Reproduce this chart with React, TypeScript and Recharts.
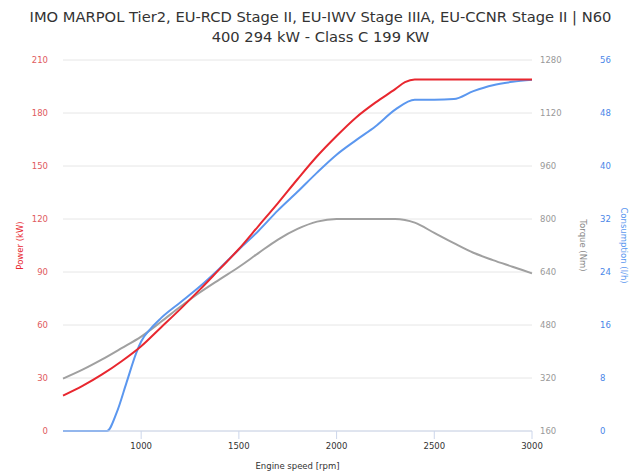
import React from 'react';
import { LineChart, Line, XAxis, YAxis, CartesianGrid } from 'recharts';

const rpm = [600, 700, 800, 900, 1000, 1100, 1200, 1300, 1400, 1500, 1600, 1700, 1800, 1900, 2000, 2100, 2200, 2300, 2350, 2400, 2500, 2600, 2700, 2800, 2900, 3000];
const powerKw = [20, 25.5, 32, 39.5, 48, 58.5, 69, 80, 91.5, 103, 116, 129, 142.5, 155.5, 167, 177.5, 186, 193.5, 197.5, 199, 199, 199, 199, 199, 199, 199];
const torqueNm = [318, 345, 376, 410, 445, 489, 535, 578, 617, 655, 697, 738, 770, 792, 800, 800, 800, 800, 797, 789, 758, 727, 698, 676, 656, 636];

const consRpm = [600, 700, 800, 825, 875, 925, 975, 1000, 1050, 1100, 1200, 1300, 1400, 1500, 1600, 1700, 1800, 1900, 2000, 2100, 2200, 2300, 2400, 2500, 2600, 2700, 2800, 2900, 3000];
const consumption = [0, 0, 0, 0, 2.8, 7.3, 11.8, 13.5, 15.5, 17, 19.4, 21.8, 24.5, 27.4, 30.2, 33.3, 36.1, 39, 41.7, 43.9, 46, 48.5, 50, 50, 50.1, 51.3, 52.2, 52.7, 53];

const xTicks = [1000, 1500, 2000, 2500, 3000];
const powerTicks = [0, 30, 60, 90, 120, 150, 180, 210];
const torqueTicks = [160, 320, 480, 640, 800, 960, 1120, 1280];
const consTicks = [0, 8, 16, 24, 32, 40, 48, 56];

const titleLines = [
  'IMO MARPOL Tier2, EU-RCD Stage II, EU-IWV Stage IIIA, EU-CCNR Stage II | N60',
  '400 294 kW - Class C 199 KW',
];

const powerData = rpm.map((r, i) => ({ rpm: r, value: powerKw[i] }));
const torqueData = rpm.map((r, i) => ({ rpm: r, value: torqueNm[i] }));
const consData = consRpm.map((r, i) => ({ rpm: r, value: consumption[i] }));

const RED = '#e8272f';
const BLUE = '#5b97ef';
const GRAY = '#a0a0a0';
const FONT = 'DejaVu Sans';

const vTitle = (text: string, color: string, dx: number, angle: number) => (props: any) => {
  const vb = props.viewBox || {};
  const x = vb.x + dx;
  const y = vb.y + vb.height / 2;
  return (
    <text x={x} y={y} transform={`rotate(${angle}, ${x}, ${y})`} textAnchor="middle" dominantBaseline="central"
      fill={color} fontSize={8.5} fontFamily={FONT}>
      {text}
    </text>
  );
};

const xTitle = (props: any) => {
  const vb = props.viewBox || {};
  return (
    <text x={vb.x + vb.width / 2} y={vb.y + 38} textAnchor="middle" fill="#333" fontSize={8.5} fontFamily={FONT}>
      Engine speed [rpm]
    </text>
  );
};

export default function App() {
  return (
    <div style={{ position: 'absolute', left: 0, top: 0, width: 641, height: 472, background: '#fff', fontFamily: FONT }}>
      <div style={{ position: 'absolute', left: 0, top: 7, width: 641, textAlign: 'center', color: '#333', fontSize: 14.7, lineHeight: '20px' }}>
        {titleLines.map((t) => (
          <div key={t}>{t}</div>
        ))}
      </div>
      <LineChart width={641} height={472} margin={{ top: 60, right: 0, bottom: 0, left: 0 }}>
        <CartesianGrid yAxisId="power" vertical={false} stroke="#e6e6e6" />
        <XAxis dataKey="rpm" type="number" domain={[600, 3000]} ticks={xTicks} height={41}
          stroke="#ccd6eb" tickSize={8} tickMargin={4} allowDuplicatedCategory={false}
          tick={{ fill: '#333', fontSize: 8.5, fontFamily: FONT }} label={{ content: xTitle }} />
        <YAxis yAxisId="power" orientation="left" width={63} domain={[0, 210]} ticks={powerTicks}
          axisLine={false} tickLine={false} tickSize={0} tickMargin={15}
          tick={{ fill: '#e05a5e', fontSize: 8.5, fontFamily: FONT }}
          label={{ content: vTitle('Power (kW)', RED, 20, -90) }} />
        <YAxis yAxisId="rB" orientation="right" width={49} domain={[0, 56]} ticks={consTicks}
          axisLine={false} tickLine={false} tickSize={0} tickMargin={8}
          tick={{ fill: '#4a86e8', fontSize: 8.5, fontFamily: FONT }}
          label={{ content: vTitle('Consumption (l/h)', BLUE, 32, 90) }} />
        <YAxis yAxisId="rA" orientation="right" width={60} domain={[160, 1280]} ticks={torqueTicks}
          axisLine={false} tickLine={false} tickSize={0} tickMargin={8}
          tick={{ fill: '#999', fontSize: 8.5, fontFamily: FONT }}
          label={{ content: vTitle('Torque (Nm)', '#888', 51, 90) }} />
        <Line yAxisId="rA" data={torqueData} dataKey="value" type="monotone" stroke={GRAY} strokeWidth={2} dot={false} isAnimationActive={false} />
        <Line yAxisId="rB" data={consData} dataKey="value" type="monotone" stroke={BLUE} strokeWidth={2} dot={false} isAnimationActive={false} />
        <Line yAxisId="power" data={powerData} dataKey="value" type="monotone" stroke={RED} strokeWidth={2} dot={false} isAnimationActive={false} />
      </LineChart>
    </div>
  );
}
